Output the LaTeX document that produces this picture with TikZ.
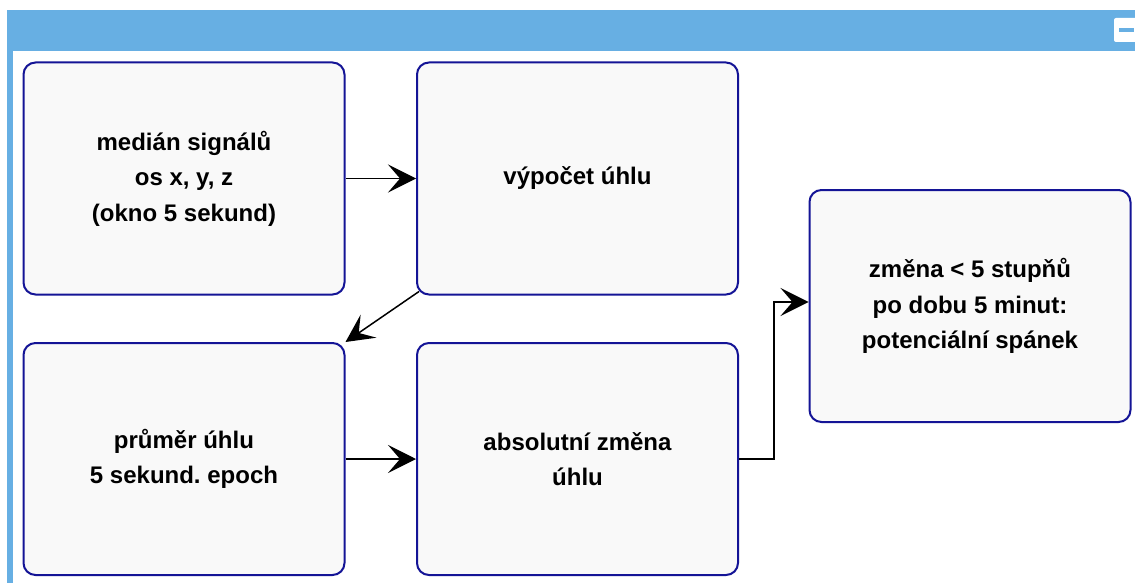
\documentclass[tikz,border=0pt]{standalone}
\usepackage{fontspec}
\setmainfont{Liberation Sans}
\frenchspacing
\usetikzlibrary{arrows.meta,positioning}
\definecolor{barblue}{RGB}{103,175,227}
\definecolor{boxfill}{RGB}{249,249,249}
\definecolor{boxline}{RGB}{20,20,150}
\tikzset{
  stepbox/.style={draw=boxline, fill=boxfill, line width=2pt, rounded corners=12pt,
    minimum width=321pt, minimum height=232pt, inner sep=0pt, align=center,
    font=\fontsize{24}{35.5}\selectfont\bfseries},
  conn/.style={draw=black, line width=1.5pt,
    -{Stealth[length=28pt, width=28pt, inset=12pt]}}
}
\begin{document}
\begin{tikzpicture}[x=1pt,y=-1pt]
\useasboundingbox (0,0) rectangle (1135,583);
\fill[white] (0,0) rectangle (1135,583);
% frame
\fill[barblue] (7,10) rectangle (1135,51);
\fill[barblue] (7,51) rectangle (13,583);
\fill[white] (1114,18) [rounded corners=2pt] rectangle (1140,42);
\fill[barblue] (1119,28) rectangle (1134,32);
% boxes
\node[stepbox] (b1) at (184,178.5) {medián signálů\\os x, y, z\hspace*{11pt}\\(okno 5 sekund)};
\node[stepbox] (b2) at (577.5,178.5) {výpočet úhlu};
\node[stepbox] (b3) at (970,306) {změna < 5 stupňů\\po dobu 5 minut:\\potenciální spánek};
\node[stepbox] (b4) at (184,459) {průměr úhlu\\5 sekund. epoch};
\node[stepbox] (b5) at (577.5,459) {absolutní změna\\úhlu};
% connectors
\draw[conn] ([xshift=3pt,yshift=4pt]b2.south west) -- (b4.north east);
\draw[conn] (b1.east) -- (b2.west);
\draw[conn] (b4.east) -- (b5.west);
\draw[conn] (b5.east) -- ++(35,0) |- ([yshift=4pt]b3.west);
\end{tikzpicture}
\end{document}
